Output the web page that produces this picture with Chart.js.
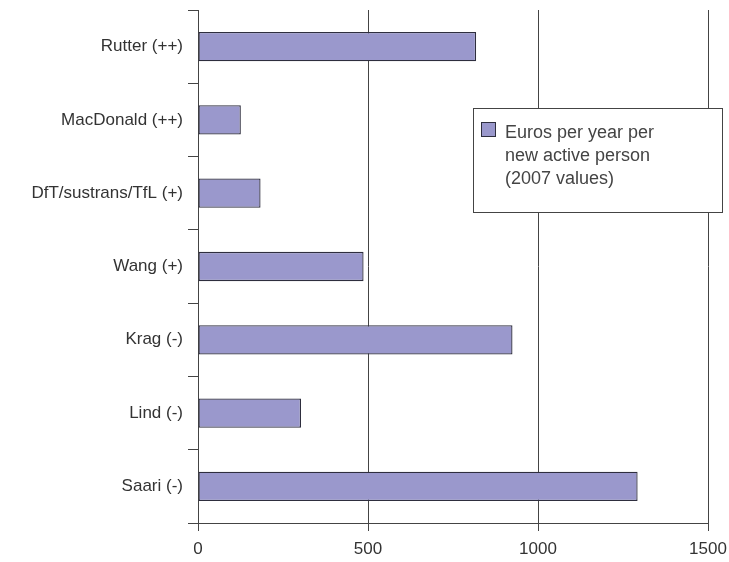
<!DOCTYPE html>
<html>
<head>
<meta charset="utf-8">
<script src="https://cdn.jsdelivr.net/npm/chart.js@4/dist/chart.umd.min.js"></script>
<style>
  html, body { margin: 0; padding: 0; background: #fff; }
  #wrap { width: 729px; height: 562px; }
</style>
</head>
<body>
<div id="wrap"><canvas id="grafico"></canvas></div>
<script>
// datos
const estudios = ['Rutter (++)', 'MacDonald (++)', 'DfT/sustrans/TfL (+)', 'Wang (+)', 'Krag (-)', 'Lind (-)', 'Saari (-)'];
const euros = [818, 126, 184, 487, 925, 303, 1293];
const marcasX = [0, 500, 1000, 1500];
const leyenda = ['Euros per year per', 'new active person', '(2007 values)'];

// leyenda dibujada a mano (texto en varias líneas)
const cajaLeyenda = {
  id: 'cajaLeyenda',
  afterDraw(chart) {
    const ctx = chart.ctx;
    const ds = chart.data.datasets[0];
    ctx.save();
    ctx.fillStyle = '#fff';
    ctx.strokeStyle = '#444';
    ctx.lineWidth = 1;
    ctx.fillRect(473.5, 108.5, 249, 104);
    ctx.strokeRect(473.5, 108.5, 249, 104);
    ctx.fillStyle = ds.backgroundColor;
    ctx.strokeStyle = ds.borderColor;
    ctx.fillRect(481.5, 122.5, 14, 14);
    ctx.strokeRect(481.5, 122.5, 14, 14);
    ctx.fillStyle = '#444';
    ctx.font = '18px "Liberation Sans", Arial, sans-serif';
    ctx.textBaseline = 'middle';
    leyenda.forEach((linea, i) => ctx.fillText(linea, 505, 133 + i * 23));
    ctx.restore();
  }
};

new Chart(document.getElementById('grafico'), {
  type: 'bar',
  data: {
    labels: estudios,
    datasets: [{
      label: leyenda.join(' '),
      data: euros,
      backgroundColor: '#9a98cc',
      borderColor: '#2e2e3e',
      borderWidth: 1.3,
      borderSkipped: false,
      barPercentage: 0.8,
      categoryPercentage: 0.5
    }]
  },
  options: {
    indexAxis: 'y',
    responsive: true,
    maintainAspectRatio: false,
    animation: false,
    layout: { padding: { top: 10, right: 21, left: 0, bottom: 0 } },
    plugins: { legend: { display: false }, tooltip: { enabled: false } },
    scales: {
      x: {
        min: 0,
        max: 1500,
        afterBuildTicks: (scale) => { scale.ticks = marcasX.map((v) => ({ value: v })); },
        afterFit: (scale) => { scale.height = 39; scale.paddingLeft = 0; scale.paddingRight = 0; },
        grid: {
          color: (c) => (c.tick && c.tick.value === 0 ? 'rgba(0,0,0,0)' : '#444'),
          tickColor: '#444',
          tickLength: 8,
          drawTicks: true
        },
        border: { color: '#444' },
        ticks: {
          color: '#333',
          padding: 8,
          maxRotation: 0,
          callback: (v) => String(v),
          font: { family: '"Liberation Sans", Arial, sans-serif', size: 17 }
        }
      },
      y: {
        afterFit: (scale) => { scale.width = 198; scale.paddingTop = 0; scale.paddingBottom = 0; },
        grid: {
          offset: true,
          drawOnChartArea: false,
          tickColor: '#444',
          tickLength: 10
        },
        border: { color: '#444' },
        ticks: {
          color: '#333',
          padding: 5,
          font: { family: '"Liberation Sans", Arial, sans-serif', size: 17 }
        }
      }
    }
  },
  plugins: [cajaLeyenda]
});
</script>
</body>
</html>
